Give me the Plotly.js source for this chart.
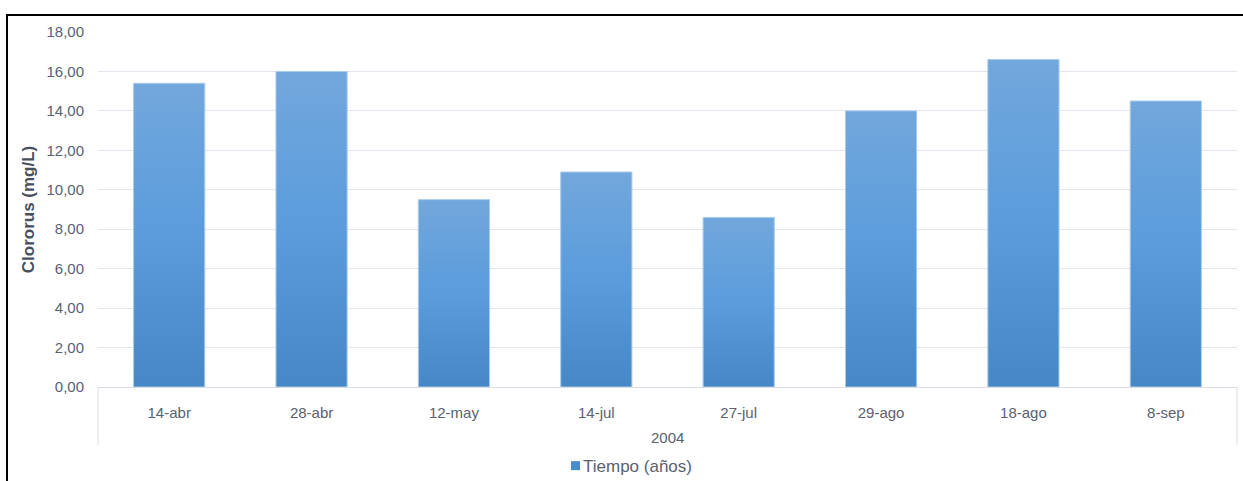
<!DOCTYPE html>
<html><head><meta charset="utf-8">
<script src="https://cdn.plot.ly/plotly-3.0.1.min.js"></script>
<style>
html,body{margin:0;padding:0;background:#fff;overflow:hidden;}
#frame{position:absolute;left:6px;top:14px;width:1260px;height:500px;border:2px solid #000;box-sizing:border-box;pointer-events:none;z-index:5;}
#chart{position:absolute;left:0;top:0;width:1243px;height:481px;}
</style></head>
<body>
<div id="chart"></div>
<div id="frame"></div>
<script>
const year = "2004";
const categories = ["14-abr","28-abr","12-may","14-jul","27-jul","29-ago","18-ago","8-sep"];
const cloruros = [15.4, 16.0, 9.5, 10.9, 8.6, 14.0, 16.6, 14.5];
const seriesName = "Tiempo (años)";
const yTitle = "Clororus (mg/L)";

const textColor = "#596170";
const lineColor = "#d9dde6";
const trace = {
  type: "bar",
  x: categories,
  y: cloruros,
  name: seriesName,
  showlegend: true,
  marker: {color: "#5b9bd5", line: {color: "#a9cbee", width: 1}},
  hoverinfo: "y"
};
const layout = {
  width: 1243, height: 481,
  margin: {l: 98, r: 6, t: 32, b: 94},
  paper_bgcolor: "#fff", plot_bgcolor: "#fff",
  separators: ",.",
  font: {family: "Liberation Sans, Arial, sans-serif", size: 15, color: textColor},
  bargap: 0.5,
  xaxis: {
    type: "category",
    showgrid: false, automargin: false,
    showline: true, linecolor: lineColor, linewidth: 1,
    ticks: "", ticklabelstandoff: 12,
    tickfont: {size: 15, color: textColor}
  },
  yaxis: {
    range: [0, 18], dtick: 2, tickformat: ".2f", automargin: false,
    showgrid: true, gridcolor: "#e3e6ee", gridwidth: 1,
    zeroline: false, showline: false, ticks: "",
    ticklabelstandoff: 13, tickfont: {size: 15, color: textColor},
    title: {text: yTitle, font: {size: 17, color: "#48505e", weight: "bold"}, standoff: 7}
  },
  annotations: [{
    text: year, xref: "paper", yref: "paper", x: 0.5, y: -0.141,
    xanchor: "center", yanchor: "middle", showarrow: false,
    font: {size: 15, color: textColor}
  }],
  shapes: [0, 1].map(px => ({
    type: "line", xref: "paper", yref: "paper", x0: px, x1: px, y0: 0, y1: -0.163,
    line: {color: lineColor, width: 1}
  })),
  legend: {orientation: "h", xref: "paper", yref: "container", x: 0.3907, xanchor: "left",
    y: 0.031, yanchor: "middle", font: {size: 17, color: textColor}},
};
Plotly.newPlot("chart", [trace], layout, {displayModeBar: false, staticPlot: true}).then(gd => {
  const svg = gd.querySelector("svg.main-svg");
  const ns = "http://www.w3.org/2000/svg";
  let defs = svg.querySelector("defs");
  const g = document.createElementNS(ns, "linearGradient");
  g.setAttribute("id", "barGrad");
  g.setAttribute("x1", "0"); g.setAttribute("y1", "0");
  g.setAttribute("x2", "0"); g.setAttribute("y2", "1");
  [["0%", "#72a7dc"], ["50%", "#5a9cdc"], ["100%", "#4688c6"]].forEach(([o, c]) => {
    const s = document.createElementNS(ns, "stop");
    s.setAttribute("offset", o); s.setAttribute("stop-color", c);
    g.appendChild(s);
  });
  defs.appendChild(g);
  gd.querySelectorAll(".barlayer .point path").forEach(p => { p.style.fill = "url(#barGrad)"; });
  gd.querySelectorAll(".legend .legendpoints path").forEach(p => {
    p.style.fill = "#4a8bcb"; p.style.stroke = "none";
    p.setAttribute("transform", "translate(32.5,0) scale(0.75)");
  });
});
</script>
</body></html>
